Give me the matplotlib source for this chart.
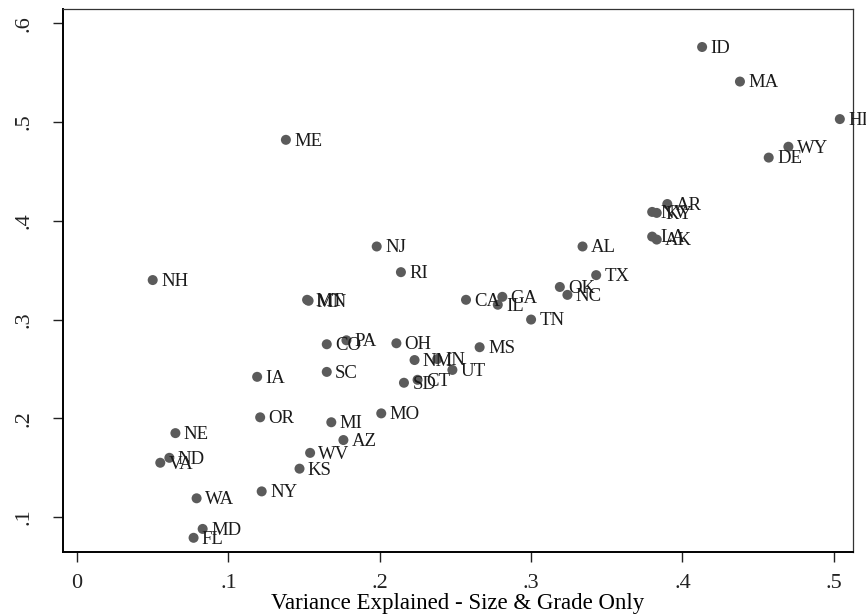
import matplotlib
matplotlib.use("Agg")
import matplotlib.pyplot as plt

plt.rcParams["font.family"] = ["Liberation Serif", "DejaVu Serif"]

# state codes with variance explained (x) and the y measure
states = [
    "ID", "MA", "HI", "WY", "DE", "AR", "NV", "KY", "LA", "AK",
    "AL", "TX", "OK", "NC", "TN", "NJ", "RI", "MT", "MN", "CA",
    "GA", "IL", "CO", "PA", "OH", "NM", "IN", "UT", "MS", "SD",
    "CT", "SC", "MO", "MI", "IA", "OR", "NE", "ND", "VA", "WA",
    "MD", "FL", "NY", "KS", "WV", "AZ", "ME", "NH",
]
x_vals = [
    0.413, 0.438, 0.504, 0.470, 0.457, 0.390, 0.380, 0.383, 0.380, 0.383,
    0.334, 0.343, 0.319, 0.324, 0.300, 0.198, 0.214, 0.152, 0.153, 0.257,
    0.281, 0.278, 0.165, 0.178, 0.211, 0.223, 0.238, 0.248, 0.266, 0.216,
    0.225, 0.165, 0.201, 0.168, 0.119, 0.121, 0.065, 0.061, 0.055, 0.079,
    0.083, 0.077, 0.122, 0.147, 0.154, 0.176, 0.138, 0.050,
]
y_vals = [
    0.576, 0.541, 0.503, 0.475, 0.464, 0.417, 0.409, 0.408, 0.384, 0.381,
    0.374, 0.345, 0.333, 0.325, 0.300, 0.374, 0.348, 0.320, 0.319, 0.320,
    0.323, 0.315, 0.275, 0.279, 0.276, 0.259, 0.260, 0.249, 0.272, 0.236,
    0.239, 0.247, 0.205, 0.196, 0.242, 0.201, 0.185, 0.160, 0.155, 0.119,
    0.088, 0.079, 0.126, 0.149, 0.165, 0.178, 0.482, 0.340,
]
x_ticks = [0, 0.1, 0.2, 0.3, 0.4, 0.5]
x_ticklabels = ["0", ".1", ".2", ".3", ".4", ".5"]
y_ticks = [0.1, 0.2, 0.3, 0.4, 0.5, 0.6]
y_ticklabels = [".1", ".2", ".3", ".4", ".5", ".6"]

fig = plt.figure(figsize=(8.66, 6.15), dpi=100)
ax = fig.add_axes([0.0727, 0.1024, 0.9123, 0.883])

ax.scatter(x_vals, y_vals, s=52, color="#5b5b5b", edgecolors="none", zorder=3)
for name, xv, yv in zip(states, x_vals, y_vals):
    ax.annotate(name, (xv, yv), xytext=(6, -1), textcoords="offset points",
                va="center", ha="left", fontsize=13.5, color="#1a1a1a", zorder=4)

ax.set_xlim(-0.0093, 0.5127)
ax.set_ylim(0.0646, 0.6145)

ax.set_xticks(x_ticks)
ax.set_xticklabels(x_ticklabels)
ax.set_yticks(y_ticks)
ax.set_yticklabels(y_ticklabels, rotation=90, va="center")
ax.tick_params(axis="both", direction="out", length=7, width=1.0,
               labelsize=16, colors="#222222")
ax.tick_params(axis="x", pad=9)
ax.tick_params(axis="y", pad=14)

ax.set_xlabel("Variance Explained - Size & Grade Only", fontsize=16.5,
              labelpad=-0.5)

for side in ["left", "bottom"]:
    ax.spines[side].set_linewidth(1.4)
    ax.spines[side].set_color("#000000")
for side in ["top", "right"]:
    ax.spines[side].set_linewidth(0.9)
    ax.spines[side].set_color("#333333")

fig.savefig("out.png", dpi=100)
